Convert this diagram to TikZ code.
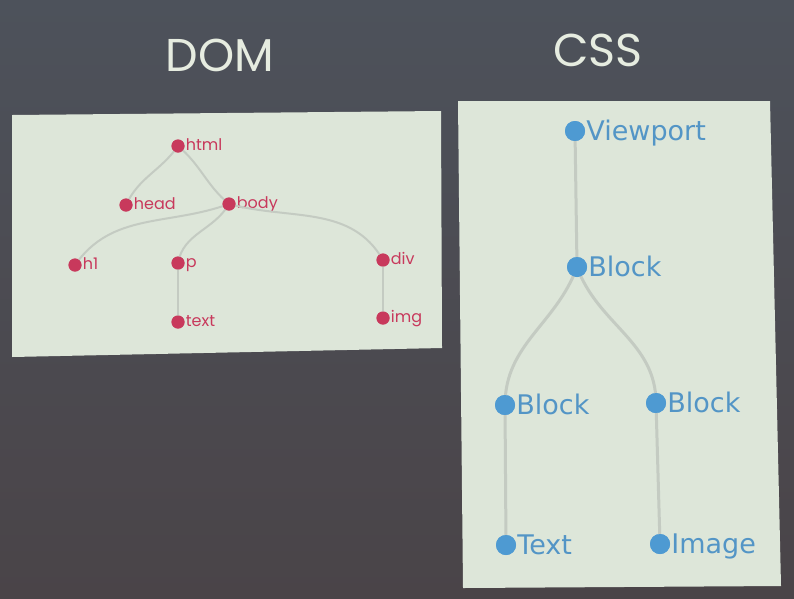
\documentclass[tikz,border=0pt]{standalone}
\usepackage{fontspec}
\newfontfamily\domfont{Poppins}
\newfontfamily\cssfont{DejaVu Sans}
\newfontfamily\titlefont{Poppins}
\definecolor{bgtop}{HTML}{4D525B}
\definecolor{bgbot}{HTML}{4A4448}
\definecolor{panel}{HTML}{DDE6D9}
\definecolor{domred}{HTML}{C8395C}
\definecolor{cssblue}{HTML}{4E9AD2}
\definecolor{csstext}{HTML}{5395C6}
\definecolor{edge}{HTML}{C4CBC2}
\definecolor{titlec}{HTML}{E6ECE0}
\begin{document}
\begin{tikzpicture}[x=1pt,y=-1pt,
  domdot/.style={circle, fill=domred, draw=none, inner sep=0pt, minimum size=13pt, label distance=1.5pt},
  domlbl/.style={text=domred, font=\domfont\fontsize{16}{18}\selectfont, inner sep=1pt, text height=8.6pt, text depth=0pt},
  cssdot/.style={circle, fill=cssblue, draw=none, inner sep=0pt, minimum size=20pt, label distance=2.5pt},
  csslbl/.style={text=csstext, font=\cssfont\fontsize{27}{32}\selectfont, inner sep=1pt, text height=19.6pt, text depth=0pt},
  domedge/.style={draw=edge, line width=2pt},
  cssedge/.style={draw=edge, line width=3pt},
  titlestyle/.style={text=titlec, font=\titlefont\fontsize{46}{50}\selectfont, inner sep=0pt}
]
\useasboundingbox (0,0) rectangle (794,598);
\shade[top color=bgtop, bottom color=bgbot] (0,0) rectangle (794,598);

% titles
\node[titlestyle] (domtitle) at (220,55) {DOM};
\node[titlestyle] (csstitle) at (598,50) {CSS};

% panels
\fill[panel] (12,115) -- (441,111) -- (442,348) -- (12,357) -- cycle;
\fill[panel] (458,101) -- (770,101) -- (781,586) -- (463,588) -- cycle;

% DOM tree
\node[domdot, label={[domlbl]0:html}] (html) at (178,146) {};
\node[domdot, label={[domlbl]0:head}] (head) at (126,205) {};
\node[domdot, label={[domlbl]0:body}] (body) at (229,204) {};
\node[domdot, label={[domlbl]0:h1}] (h1) at (75,265) {};
\node[domdot, label={[domlbl]0:p}] (p) at (178,263) {};
\node[domdot, label={[domlbl]0:div}] (div) at (383,260) {};
\node[domdot, label={[domlbl]0:text}] (text) at (178,322) {};
\node[domdot, label={[domlbl]0:img}] (img) at (383,318) {};

% CSS tree
\node[cssdot, label={[csslbl]0:Viewport}] (vp) at (575,131) {};
\node[cssdot, label={[csslbl]0:Block}] (blk) at (577,267) {};
\node[cssdot, label={[csslbl]0:Block}] (blkl) at (505,405) {};
\node[cssdot, label={[csslbl]0:Block}] (blkr) at (656,403) {};
\node[cssdot, label={[csslbl]0:Text}] (txt) at (506,545) {};
\node[cssdot, label={[csslbl]0:Image}] (image) at (660,544) {};

% edges
\path[domedge] (html.center) to[out=-125,in=65] (head.center);
\path[domedge] (html.center) to[out=-40,in=140] (body.center);
\path[domedge] (body.center) to[out=-160,in=55] (h1.center);
\path[domedge] (body.center) to[out=-120,in=80] (p.center);
\path[domedge] (body.center) to[out=-15,in=120] (div.center);
\path[domedge] (p.center) -- (text.center);
\path[domedge] (div.center) -- (img.center);

\path[cssedge] (vp.center) -- (blk.center);
\path[cssedge] (blk.center) to[out=-110,in=90] (blkl.center);
\path[cssedge] (blk.center) to[out=-70,in=90] (blkr.center);
\path[cssedge] (blkl.center) -- (txt.center);
\path[cssedge] (blkr.center) -- (image.center);

% dots on top of edges
\foreach \n in {html,head,body,h1,p,div,text,img}
  \fill[domred] (\n.center) circle (6.5pt);
\foreach \n in {vp,blk,blkl,blkr,txt,image}
  \fill[cssblue] (\n.center) circle (10pt);
\end{tikzpicture}
\end{document}
